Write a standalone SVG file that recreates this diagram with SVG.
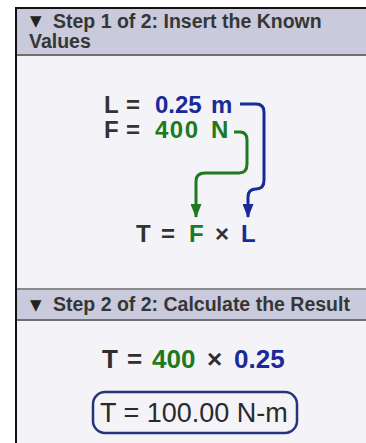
<svg xmlns="http://www.w3.org/2000/svg" width="366" height="443" viewBox="0 0 366 443">
<style>
.hdr{font-family:"Liberation Sans",Arial,sans-serif;font-weight:bold;font-size:19.5px;fill:#363636}
.tri{font-family:"DejaVu Sans",sans-serif;font-size:15px;fill:#222}
.eq{font-family:"Liberation Sans",Arial,sans-serif;font-weight:bold;font-size:24px;fill:#333}
.eq2{font-family:"Liberation Sans",Arial,sans-serif;font-size:26px;fill:#2e2e2e;font-weight:bold}
.res{font-family:"Liberation Sans",Arial,sans-serif;font-size:27px;fill:#2a2a2a}
.g{fill:#1d7a1d}
.b{fill:#1a2a99}
.cg{fill:none;stroke:#1d7a1d;stroke-width:3}
.cb{fill:none;stroke:#1a2a99;stroke-width:3}
</style>
<defs>
<marker id="ag" viewBox="0 0 14 11" refX="13" refY="5.5" markerWidth="14" markerHeight="11" orient="auto" markerUnits="userSpaceOnUse"><path d="M0,0 L14,5.5 L0,11 z" fill="#1d7a1d"/></marker>
<marker id="ab" viewBox="0 0 14 11" refX="13" refY="5.5" markerWidth="14" markerHeight="11" orient="auto" markerUnits="userSpaceOnUse"><path d="M0,0 L14,5.5 L0,11 z" fill="#1a2a99"/></marker>
</defs>
<rect x="0" y="0" width="366" height="443" fill="#ffffff"/>
<rect x="16" y="8" width="350" height="435" fill="#f4f4f8"/>
<g id="step1-header">
<rect x="16" y="9" width="350" height="45" fill="#c9cadb"/>
<line x1="16" y1="55" x2="366" y2="55" stroke="#707070" stroke-width="2"/>
<text class="tri" x="30" y="26">▼</text>
<text class="hdr" x="53" y="28">Step 1 of 2: Insert the Known</text>
<text class="hdr" x="29" y="48">Values</text>
</g>
<g id="step2-header">
<rect x="16" y="289" width="350" height="31" fill="#c9cadb"/>
<line x1="16" y1="289" x2="366" y2="289" stroke="#8a8a8a" stroke-width="2"/>
<line x1="16" y1="320" x2="366" y2="320" stroke="#707070" stroke-width="2"/>
<text class="tri" x="30" y="310">▼</text>
<text class="hdr" x="53" y="311">Step 2 of 2: Calculate the Result</text>
</g>
<line x1="16" y1="8" x2="16" y2="443" stroke="#111" stroke-width="2"/>
<line x1="15" y1="8" x2="366" y2="8" stroke="#111" stroke-width="2"/>
<g id="known-L">
<text class="eq" y="113"><tspan x="104">L</tspan><tspan x="126">=</tspan><tspan x="155" class="b">0.25</tspan><tspan x="211" class="b">m</tspan></text>
</g>
<g id="known-F">
<text class="eq" y="138"><tspan x="104">F</tspan><tspan x="126">=</tspan><tspan x="155" class="g" letter-spacing="1.5">400</tspan><tspan x="211" class="g">N</tspan></text>
</g>
<g id="formula">
<text class="eq" y="242"><tspan x="136">T</tspan><tspan x="161">=</tspan><tspan x="189" class="g">F</tspan><tspan x="215">×</tspan><tspan x="241" class="b">L</tspan></text>
</g>
<g id="connectors">
<path class="cb" d="M240,104 H256 Q264,104 264,112 V180 Q264,189 256,189 Q248,189 248,197 V217" marker-end="url(#ab)"/>
<path class="cg" d="M234,132 H240 Q247,132 247,140 V164 Q247,173 239,173 H205 Q196,173 196,181 V217" marker-end="url(#ag)"/>
</g>
<g id="substitution">
<text class="eq2" y="368"><tspan x="102">T</tspan><tspan x="127">=</tspan><tspan x="152" class="g">400</tspan><tspan x="207">×</tspan><tspan x="234" class="b">0.25</tspan></text>
</g>
<g id="result">
<rect x="93" y="392" width="204" height="41" rx="12" fill="none" stroke="#25357a" stroke-width="2.5"/>
<text class="res" x="100" y="422">T = 100.00 N-m</text>
</g>
</svg>
